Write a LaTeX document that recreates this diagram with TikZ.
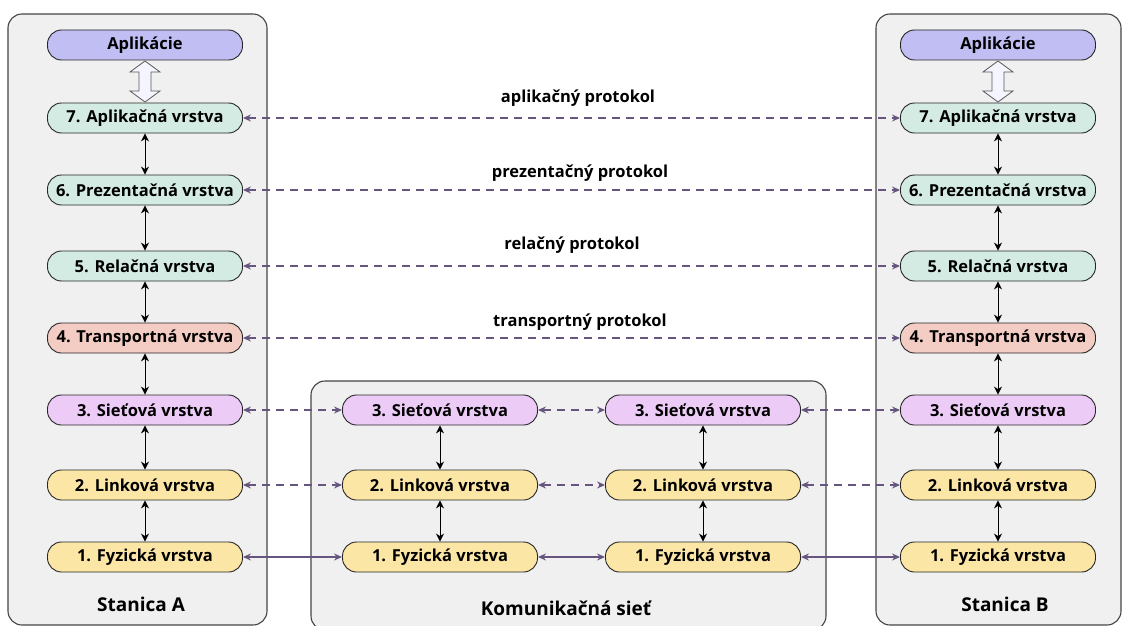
\documentclass[tikz,border=0pt]{standalone}
\usepackage{fontspec}
\setmainfont{Open Sans}
\usetikzlibrary{arrows.meta}
\definecolor{boxbg}{HTML}{F0F0F0}
\definecolor{boxln}{HTML}{454545}
\definecolor{appc}{HTML}{C0BEF2}
\definecolor{tealc}{HTML}{D3EBE3}
\definecolor{pinkc}{HTML}{F3CCC4}
\definecolor{lilac}{HTML}{EDCBF7}
\definecolor{yelc}{HTML}{FBE6A6}
\definecolor{purp}{HTML}{66557F}
\begin{document}
\begin{tikzpicture}[x=1pt,y=-1pt,
  station/.style={draw=boxln,fill=boxbg,line width=1.1pt,rounded corners=14pt},
  layer/.style={draw=black!85,line width=0.9pt,rounded corners=14pt,minimum width=195pt,minimum height=30pt,inner sep=0pt,font=\fontsize{16.5}{18}\selectfont\bfseries},
  vlink/.style={{Stealth[length=8pt,width=8pt]}-{Stealth[length=8pt,width=8pt]},line width=1pt,black},
  hdash/.style={{Stealth[length=8pt,width=7pt]}-{Stealth[length=8pt,width=7pt]},purp,line width=1.2pt,dash pattern=on 8pt off 6pt},
  hsolid/.style={{Stealth[length=8pt,width=7pt]}-{Stealth[length=8pt,width=7pt]},purp,line width=1.2pt},
  proto/.style={font=\fontsize{16.5}{18}\selectfont\bfseries},
  title/.style={font=\fontsize{19}{21}\selectfont\bfseries}
]
\useasboundingbox (0,0) rectangle (1122,626);
\fill[white] (0,0) rectangle (1122,626);
% station boxes
\draw[station] (8,14) rectangle (267,625);
\draw[station] (876,14) rectangle (1121,625);
\draw[station] (311,381) rectangle (826,630);
\clip (0,0) rectangle (1122,626);

% left station
\node[layer,fill=appc] (aA) at (145,45) {Aplikácie};
\node[layer,fill=tealc] (a7) at (145,118) {7. Aplikačná vrstva};
\node[layer,fill=tealc] (a6) at (145,190) {6. Prezentačná vrstva};
\node[layer,fill=tealc] (a5) at (145,266) {5. Relačná vrstva};
\node[layer,fill=pinkc] (a4) at (145,338) {4. Transportná vrstva};
\node[layer,fill=lilac] (a3) at (145,410) {3. Sieťová vrstva};
\node[layer,fill=yelc] (a2) at (145,485) {2. Linková vrstva};
\node[layer,fill=yelc] (a1) at (145,557) {1. Fyzická vrstva};
\node[title] (sa) at (141,604) {Stanica A};

% right station
\node[layer,fill=appc] (bA) at (998,45) {Aplikácie};
\node[layer,fill=tealc] (b7) at (998,118) {7. Aplikačná vrstva};
\node[layer,fill=tealc] (b6) at (998,190) {6. Prezentačná vrstva};
\node[layer,fill=tealc] (b5) at (998,266) {5. Relačná vrstva};
\node[layer,fill=pinkc] (b4) at (998,338) {4. Transportná vrstva};
\node[layer,fill=lilac] (b3) at (998,410) {3. Sieťová vrstva};
\node[layer,fill=yelc] (b2) at (998,485) {2. Linková vrstva};
\node[layer,fill=yelc] (b1) at (998,557) {1. Fyzická vrstva};
\node[title] (sb) at (1005,604) {Stanica B};

% network
\node[layer,fill=lilac] (m3) at (440,410) {3. Sieťová vrstva};
\node[layer,fill=yelc] (m2) at (440,485) {2. Linková vrstva};
\node[layer,fill=yelc] (m1) at (440,557) {1. Fyzická vrstva};
\node[layer,fill=lilac] (n3) at (703,410) {3. Sieťová vrstva};
\node[layer,fill=yelc] (n2) at (703,485) {2. Linková vrstva};
\node[layer,fill=yelc] (n1) at (703,557) {1. Fyzická vrstva};
\node[title] (ks) at (566,608) {Komunikačná sieť};

% hollow double arrows
\foreach \x/\n in {145/a,998/b}{
  \draw[fill=blue!4,draw=black!65,line width=0.8pt]
    (\x,61) -- (\x+15,72) -- (\x+6,72) -- (\x+6,91) -- (\x+15,91) -- (\x,102)
    -- (\x-15,91) -- (\x-6,91) -- (\x-6,72) -- (\x-15,72) -- cycle;
}

% vertical links
\foreach \s in {a,b}{
  \draw[vlink] (\s7) -- (\s6);
  \draw[vlink] (\s6) -- (\s5);
  \draw[vlink] (\s5) -- (\s4);
  \draw[vlink] (\s4) -- (\s3);
  \draw[vlink] (\s3) -- (\s2);
  \draw[vlink] (\s2) -- (\s1);
}
\draw[vlink] (m3) -- (m2);
\draw[vlink] (m2) -- (m1);
\draw[vlink] (n3) -- (n2);
\draw[vlink] (n2) -- (n1);

% peer protocols
\draw[hdash] (a7) -- (b7);
\draw[hdash] (a6) -- (b6);
\draw[hdash] (a5) -- (b5);
\draw[hdash] (a4) -- (b4);
\node[proto] (p7) at (578,98) {aplikačný protokol};
\node[proto] (p6) at (580,173) {prezentačný protokol};
\node[proto] (p5) at (572,245) {relačný protokol};
\node[proto] (p4) at (580,322) {transportný protokol};

\draw[hdash] (a3) -- (m3);
\draw[hdash] (m3) -- (n3);
\draw[hdash] (n3) -- (b3);
\draw[hdash] (a2) -- (m2);
\draw[hdash] (m2) -- (n2);
\draw[hdash] (n2) -- (b2);
\draw[hsolid] (a1) -- (m1);
\draw[hsolid] (m1) -- (n1);
\draw[hsolid] (n1) -- (b1);
\end{tikzpicture}
\end{document}
